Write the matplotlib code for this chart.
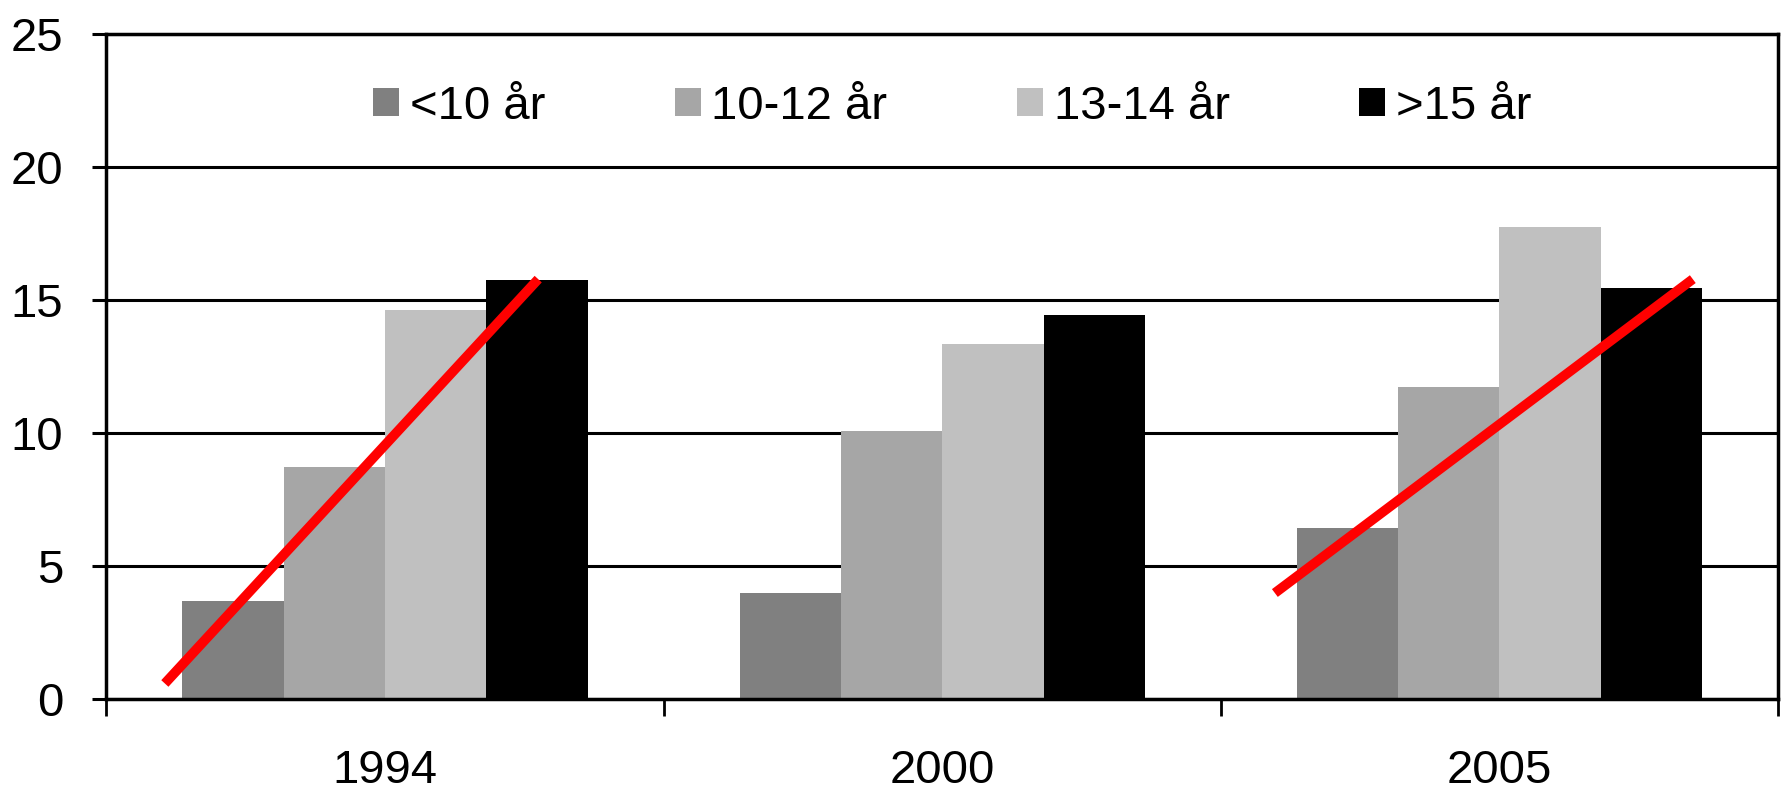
import numpy as np
import matplotlib
matplotlib.use("Agg")
import matplotlib.pyplot as plt

plt.rcParams['font.family'] = ['Liberation Sans', 'DejaVu Sans']

years = ['1994', '2000', '2005']
groups = ['<10 år', '10-12 år', '13-14 år', '>15 år']
values = [
    [3.7, 4.0, 6.45],    # <10 år
    [8.75, 10.1, 11.75], # 10-12 år
    [14.65, 13.35, 17.75],  # 13-14 år
    [15.75, 14.45, 15.45],  # >15 år
]
colors = ['#808080', '#a6a6a6', '#c0c0c0', '#000000']

# red trend lines (category x units, value y)
trend_1994_x = [-0.395, 0.275]
trend_1994_y = [0.6, 15.8]
trend_2005_x = [1.597, 2.347]
trend_2005_y = [4.0, 15.8]

fig = plt.figure(figsize=(17.87, 7.93), dpi=100)
ax = fig.add_axes([0.0595, 0.118, 0.9355, 0.8386])

x = np.arange(len(years))
w = 1 / 5.5
for i, (g, v, c) in enumerate(zip(groups, values, colors)):
    ax.bar(x + (i - 1.5) * w, v, width=w, color=c, label=g, zorder=2)

ax.plot(trend_1994_x, trend_1994_y, color='#ff0000', lw=7, solid_capstyle='butt', zorder=3)
ax.plot(trend_2005_x, trend_2005_y, color='#ff0000', lw=7, solid_capstyle='butt', zorder=3)

ax.set_xlim(-0.5, 2.5)
ax.set_ylim(0, 25)
ax.set_yticks(range(0, 26, 5))
ax.set_xticks(x)
ax.set_xticklabels(years)
ax.set_xticks([-0.5, 0.5, 1.5, 2.5], minor=True)
ax.tick_params(axis='x', which='major', length=0, pad=36, labelsize=34)
ax.tick_params(axis='x', which='minor', length=12, width=2, direction='out')
ax.tick_params(axis='y', length=10, width=2.2, pad=21, labelsize=34)

ax.yaxis.grid(True, color='black', lw=2.2)
ax.set_axisbelow(True)
for s in ax.spines.values():
    s.set_linewidth(2.5)

ax.legend(loc='center', bbox_to_anchor=(0.506, 0.891), ncol=4, frameon=False,
          fontsize=34, handlelength=0.55, handleheight=0.55, handletextpad=0.22,
          columnspacing=2.75, borderpad=0)

fig.savefig('out.png', dpi=100)
